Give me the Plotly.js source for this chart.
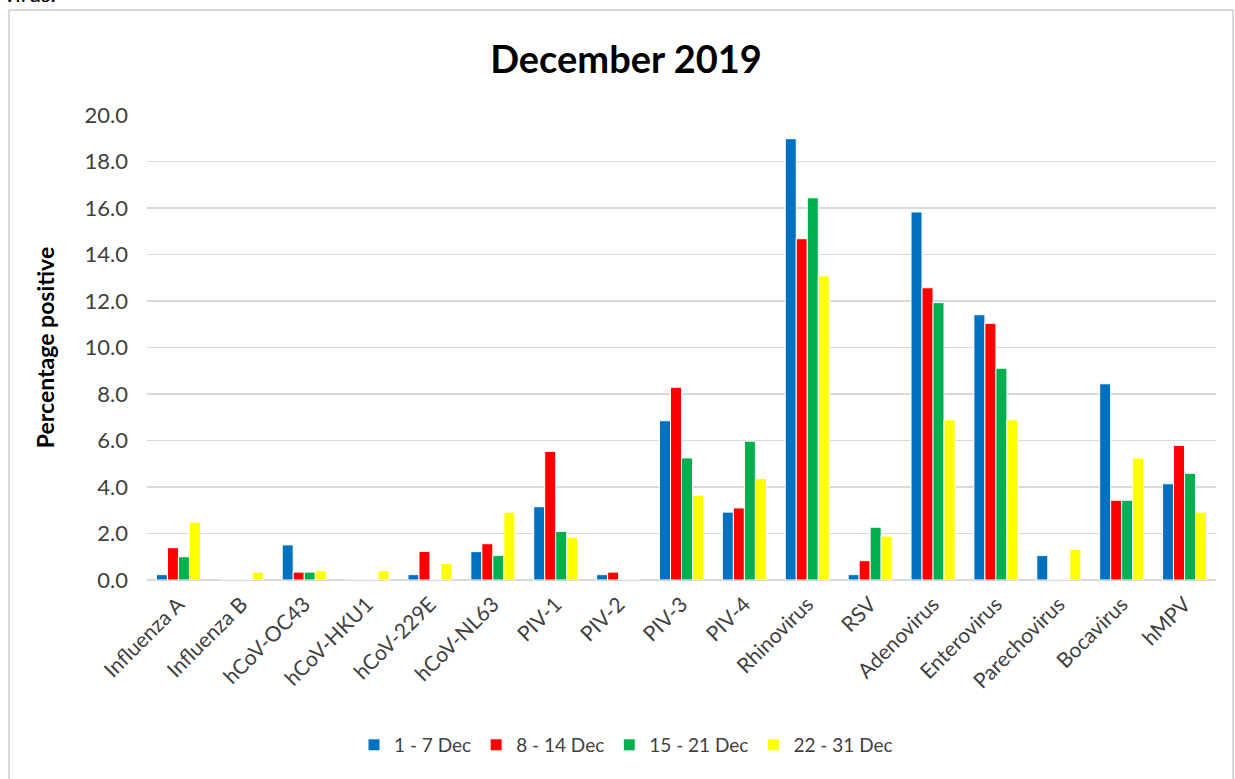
<!DOCTYPE html>
<html>
<head>
<meta charset="utf-8">
<script src="https://cdn.plot.ly/plotly-3.0.1.min.js"></script>
<style>
html,body{margin:0;padding:0;background:#fff;}
#chart{width:1235px;height:779px;}
</style>
</head>
<body>
<div id="chart"></div>
<script>
const categories = ["Influenza A","Influenza B","hCoV-OC43","hCoV-HKU1","hCoV-229E","hCoV-NL63","PIV-1","PIV-2","PIV-3","PIV-4","Rhinovirus","RSV","Adenovirus","Enterovirus","Parechovirus","Bocavirus","hMPV"];
const seriesNames = ["1 - 7 Dec","8 - 14 Dec","15 - 21 Dec","22 - 31 Dec"];
const week1 = [0.23, 0, 1.51, 0, 0.23, 1.22, 3.15, 0.23, 6.85, 2.92, 18.98, 0.23, 15.83, 11.41, 1.05, 8.44, 4.14];
const week2 = [1.39, 0, 0.34, 0, 1.23, 1.56, 5.53, 0.34, 8.29, 3.10, 14.68, 0.83, 12.57, 11.04, 0, 3.43, 5.79];
const week3 = [1.00, 0, 0.34, 0, 0, 1.06, 2.09, 0, 5.25, 5.97, 16.44, 2.27, 11.93, 9.11, 0, 3.43, 4.59];
const week4 = [2.49, 0.34, 0.40, 0.40, 0.72, 2.92, 1.84, 0, 3.64, 4.36, 13.08, 1.89, 6.89, 6.89, 1.32, 5.25, 2.92];
const colors = ["#0070C0","#FF0000","#00B050","#FFFF00"];
const yTickVals = [0,2,4,6,8,10,12,14,16,18,20];

const allSeries = [week1, week2, week3, week4];
const traces = allSeries.map((vals, i) => ({
  type: "bar",
  name: seriesNames[i],
  x: categories,
  y: vals,
  marker: {color: colors[i], line: {color: "#ffffff", width: 1}},
  hoverinfo: "x+y+name"
}));

const W = 1235, H = 779;
const mL = 147, mR = 19, mT = 115, mB = 199;
const pw = W - mL - mR, ph = H - mT - mB;
const px = v => (v - mL) / pw;
const py = v => (H - mB - v) / ph;

const layout = {
  width: W, height: H,
  margin: {l: mL, r: mR, t: mT, b: mB, pad: 0, autoexpand: false},
  paper_bgcolor: "#ffffff",
  plot_bgcolor: "#ffffff",
  font: {family: "Lato, 'Open Sans', sans-serif", color: "#404040", size: 20},
  title: {
    text: "<b>December 2019</b>",
    font: {family: "Lato, sans-serif", size: 38, color: "#000000"},
    x: 626 / W, xanchor: "center", xref: "container",
    y: 1 - 60 / H, yanchor: "middle", yref: "container"
  },
  barmode: "group",
  bargap: 0.30,
  bargroupgap: 0.0,
  xaxis: {
    type: "category",
    tickmode: "array",
    tickvals: categories,
    ticktext: categories,
    tickangle: -45,
    showgrid: false,
    showline: false,
    zeroline: false,
    ticks: "",
    ticklabelstandoff: 7,
    tickfont: {size: 21, color: "#404040"},
    automargin: false
  },
  yaxis: {
    range: [0, 20],
    tickvals: yTickVals,
    ticktext: yTickVals.map(v => v.toFixed(1)),
    showgrid: true,
    gridcolor: "#d9d9d9",
    gridwidth: 1.3,
    zeroline: true,
    zerolinecolor: "#d9d9d9",
    zerolinewidth: 1.3,
    showline: false,
    ticks: "",
    ticklabelstandoff: 18,
    tickfont: {size: 22, color: "#404040"},
    automargin: false,
    title: {
      text: "<b>Percentage positive</b>",
      font: {size: 23, color: "#000000"},
      standoff: 23
    }
  },
  legend: {
    orientation: "h",
    x: px(626), xanchor: "center",
    y: py(745), yanchor: "middle",
    font: {size: 19, color: "#404040"},
    itemwidth: 30,
    traceorder: "normal",
    tracegroupgap: 0
  },
  shapes: [{
    type: "rect", xref: "paper", yref: "paper",
    x0: px(9), x1: px(1233), y0: py(785), y1: py(10),
    line: {color: "#d9d9d9", width: 2},
    fillcolor: "rgba(0,0,0,0)",
    layer: "below"
  }],
  annotations: [{
    text: "virus.",
    xref: "paper", yref: "paper",
    x: px(2), xanchor: "left",
    y: py(-6), yanchor: "middle",
    showarrow: false,
    font: {size: 22, color: "#000000"}
  }]
};

Plotly.newPlot("chart", traces, layout, {displayModeBar: false, staticPlot: true});
</script>
</body>
</html>
